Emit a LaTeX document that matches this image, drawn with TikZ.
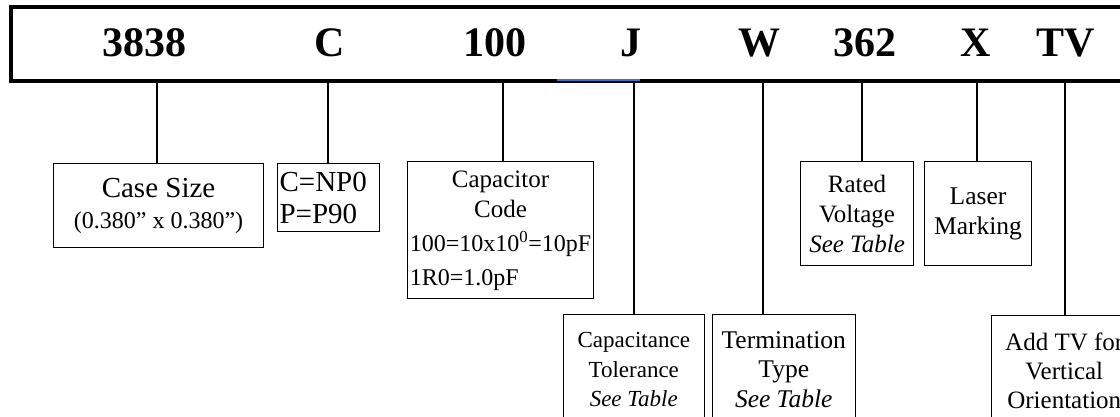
\documentclass[tikz,border=0pt]{standalone}
\usepackage{fontspec}
\setmainfont{Liberation Serif}
\usetikzlibrary{positioning}
\definecolor{selblue}{RGB}{68,114,196}

\begin{document}
\begin{tikzpicture}[x=1pt,y=-1pt,
		code/.style={font=\fontsize{42}{46}\selectfont\bfseries,anchor=base,inner sep=0pt},
		lead/.style={line width=2.8pt},
		box/.style={draw,line width=1.1pt,anchor=north west,inner sep=1.5pt,align=center,font=\fontsize{25}{30}\selectfont}]

		\useasboundingbox (0,0) rectangle (1120,417);
		\clip (0,0) rectangle (1120,417);

		% part number bar
		\draw[line width=3.2pt] (11,7) rectangle (1140,81);
		\draw[line width=2pt,selblue] (557,80) -- (640,80);

		\node[code](n3838) at (144,57) {3838};
		\node[code](nC) at (330,57) {C};
		\node[code](n100) at (495,57) {100};
		\node[code](nJ) at (631,57) {J};
		\node[code](nW) at (759,57) {W};
		\node[code](n362) at (865,57) {362};
		\node[code](nX) at (976,57) {X};
		\node[code](nTV) at (1066,57) {TV};

		\coordinate (l3838) at (157,81);
		\coordinate (lC) at (328,81);
		\coordinate (l100) at (503,81);
		\coordinate (lJ) at (634,81);
		\coordinate (lW) at (763,81);
		\coordinate (l362) at (862,81);
		\coordinate (lX) at (977,81);
		\coordinate (lTV) at (1065,81);

		% boxes
		\node[box,minimum width=210pt,minimum height=84pt](case) at (53,163)
			{{\fontsize{29}{31}\selectfont Case Size}\\[1pt]{\fontsize{24}{30}\selectfont (0.380” x 0.380”)}};
		\node[box,align=left,text width=98pt,inner xsep=2pt,minimum height=68pt,font=\fontsize{29}{32}\selectfont](cnp) at (277,163)
			{C=NP0\\P=P90};
		\node[box,minimum width=186pt,minimum height=137pt](capcode) at (407,161)
			{\begin{tabular}{@{}l@{}}
				\multicolumn{1}{@{}c@{}}{\fontsize{25}{31}\selectfont Capacitor}\\
				\multicolumn{1}{@{}c@{}}{\fontsize{25}{31}\selectfont Code}\\[4pt]
				\fontsize{24}{31}\selectfont 100=10x10\textsuperscript{0}=10pF\\[4pt]
				\fontsize{24}{31}\selectfont 1R0=1.0pF
			\end{tabular}};
		\node[box,minimum width=141pt,minimum height=110pt,font=\fontsize{23}{29.5}\selectfont](captol) at (562.7,314)
			{Capacitance\\Tolerance\\\textit{See Table}};
		\node[box,minimum width=143pt,minimum height=110pt,font=\fontsize{25.5}{29.5}\selectfont](term) at (711.7,314)
			{Termination\\Type\\\textit{See Table}};
		\node[box,minimum width=113pt,minimum height=104pt](rated) at (800,161)
			{Rated\\Voltage\\\textit{See Table}};
		\node[box,minimum width=107pt,minimum height=104pt,font=\fontsize{25.5}{30}\selectfont](laser) at (924,161)
			{Laser\\Marking};
		\node[box,minimum width=146pt,minimum height=110pt,font=\fontsize{25}{29}\selectfont](addtv) at (990.7,315)
			{Add TV for\\Vertical\\Orientation};

		\draw[lead]
		(l3838) -- (l3838 |- case.north)
		(lC) -- (lC |- cnp.north)
		(l100) -- (l100 |- capcode.north)
		(lJ) -- (lJ |- captol.north)
		(lW) -- (lW |- term.north)
		(l362) -- (l362 |- rated.north)
		(lX) -- (lX |- laser.north)
		(lTV) -- (lTV |- addtv.north);

	\end{tikzpicture}
\end{document}
